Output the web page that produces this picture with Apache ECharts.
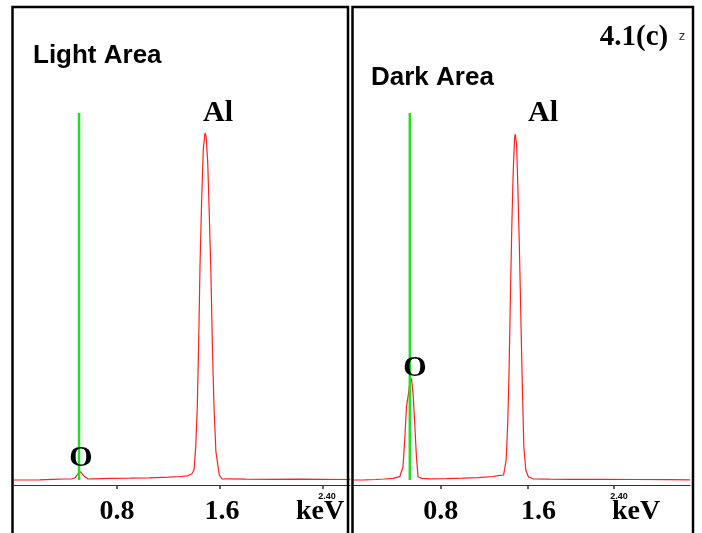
<!DOCTYPE html>
<html><head><meta charset="utf-8">
<script src="https://cdn.jsdelivr.net/npm/echarts@6/dist/echarts.min.js"></script>
<style>html,body{margin:0;padding:0;background:#fff}#c{width:702px;height:533px}</style>
</head><body><div id="c"></div>
<script>
// ---- data (energy in keV, counts in arbitrary units) ----
const lightKeV = [0, 0.10, 0.20, 0.30, 0.40, 0.45, 0.476, 0.495, 0.515, 0.541, 0.575, 0.62, 0.75, 0.90, 1.05, 1.20, 1.29, 1.35, 1.380, 1.398, 1.411, 1.423, 1.434, 1.444, 1.457, 1.470, 1.483, 1.491, 1.504, 1.516, 1.530, 1.540, 1.553, 1.568, 1.594, 1.615, 1.66, 1.80, 2.00, 2.20, 2.40, 2.61];
const lightCounts = [50, 50, 52, 56, 60, 62, 73, 110, 133, 93, 60, 62, 66, 68, 72, 78, 85, 92, 110, 150, 384, 772, 1420, 2172, 2846, 3364, 3520, 3494, 3235, 2720, 2070, 1420, 772, 330, 100, 60, 62, 58, 57, 58, 56, 55];
const darkKeV = [0, 0.10, 0.20, 0.28, 0.36, 0.422, 0.452, 0.468, 0.484, 0.499, 0.512, 0.530, 0.545, 0.560, 0.576, 0.591, 0.622, 0.70, 0.85, 1.00, 1.15, 1.28, 1.333, 1.38, 1.404, 1.419, 1.431, 1.444, 1.456, 1.468, 1.481, 1.487, 1.500, 1.512, 1.527, 1.542, 1.555, 1.567, 1.585, 1.610, 1.657, 1.80, 2.00, 2.30, 2.60, 2.90, 3.10];
const darkCounts = [50, 52, 55, 60, 67, 83, 183, 450, 783, 883, 1000, 1067, 917, 617, 283, 83, 67, 62, 64, 68, 73, 85, 93, 100, 250, 640, 1160, 1934, 2582, 3100, 3463, 3510, 3412, 2970, 2323, 1545, 900, 380, 150, 80, 60, 58, 57, 56, 55, 54, 52];
const oLineKeV = [0.505, 0.515];      // O K-alpha marker (light, dark)
const oLineCounts = [50, 3720];        // marker bottom, top
const xMax = [2.609, 3.10];
const tickValues = [0.8, 1.6, 2.4];
const tickLabels = ['0.8', '1.6', ''];
const panelTitles = ['Light Area', 'Dark Area'];
const peakNames = ['Al', 'O'];

const pairs = (xs, ys) => xs.map((x, i) => [x, ys[i]]);
const serif = '"Liberation Serif","Times New Roman",serif';
const sans = '"Liberation Sans",Arial,sans-serif';
const chart = echarts.init(document.getElementById('c'), null, {renderer: 'canvas'});

function makeX(gi, shift16) {
  const tok = {fontFamily: serif, fontWeight: 'bold', fontSize: 28, color: '#000', lineHeight: 28};
  return {
    type: 'value', gridIndex: gi, min: 0, max: xMax[gi], interval: 0.8,
    axisLine: {show: true, onZero: false, lineStyle: {color: '#333', width: 1}},
    axisTick: {show: true, customValues: tickValues, length: 4, lineStyle: {color: '#333', width: 1.5}},
    axisLabel: {
      show: true, customValues: tickValues, margin: 13,
      fontFamily: serif, fontWeight: 'bold', fontSize: 28, color: '#000', lineHeight: 28,
      formatter: v => {
        const i = tickValues.findIndex(t => Math.abs(t - v) < 1e-6);
        const s = i >= 0 ? tickLabels[i] : '';
        if (!s) return '';
        return i === 1 ? '{s|' + s + '}' : '{n|' + s + '}';
      },
      rich: {n: tok, s: Object.assign({}, tok, {padding: [0, 0, 0, shift16]})}
    },
    splitLine: {show: false}
  };
}
function makeY(gi) {
  return {type: 'value', gridIndex: gi, min: 0, max: 4780, show: false, splitLine: {show: false}};
}
const red = {color: '#ff2020', width: 1.2};
const green = {color: '#22dd22', width: 2.5};

function txt(x, y, text, size, family, align, extra) {
  return Object.assign({
    type: 'text', x: x, y: y, z: 200,
    style: {text: text, fontSize: size, fontFamily: family, fontWeight: 'bold', fill: '#000',
            align: align || 'center', verticalAlign: 'middle'}
  }, extra || {});
}

chart.setOption({
  animation: false,
  backgroundColor: '#fff',
  grid: [
    {left: 14, top: 7, width: 336, bottom: 48},
    {left: 354, top: 7, width: 336, bottom: 48}
  ],
  xAxis: [makeX(0, 4), makeX(1, 22)],
  yAxis: [makeY(0), makeY(1)],
  series: [
    {type: 'line', xAxisIndex: 0, yAxisIndex: 0, data: pairs(lightKeV, lightCounts), showSymbol: false, lineStyle: red, z: 2},
    {type: 'line', xAxisIndex: 1, yAxisIndex: 1, data: pairs(darkKeV, darkCounts), showSymbol: false, lineStyle: red, z: 2},
    {type: 'line', xAxisIndex: 0, yAxisIndex: 0, data: oLineCounts.map(c => [oLineKeV[0], c]), showSymbol: false, lineStyle: green, z: 3},
    {type: 'line', xAxisIndex: 1, yAxisIndex: 1, data: oLineCounts.map(c => [oLineKeV[1], c]), showSymbol: false, lineStyle: green, z: 3}
  ],
  graphic: [
    {type: 'rect', z: 100, shape: {x: 12.5, y: 7, width: 335.5, height: 545}, style: {fill: null, stroke: '#000', lineWidth: 2.5}},
    {type: 'rect', z: 100, shape: {x: 352.5, y: 7, width: 340.5, height: 545}, style: {fill: null, stroke: '#000', lineWidth: 2.5}},
    txt(33, 56, panelTitles[0], 26, sans, 'left'),
    txt(371, 78, panelTitles[1], 26, sans, 'left'),
    txt(218, 113, peakNames[0], 30, serif),
    txt(543, 113, peakNames[0], 30, serif),
    txt(81, 458, peakNames[1], 30, serif),
    txt(415, 368, peakNames[1], 30, serif),
    txt(634, 38, '4.1(c)', 29, serif),
    {type: 'text', x: 682, y: 36, z: 200, style: {text: 'z', fontSize: 13, fontFamily: sans, fill: '#333', align: 'center', verticalAlign: 'middle'}},
    txt(327, 497, '2.40', 9, sans),
    txt(619, 497, '2.40', 9, sans),
    txt(320, 512, 'keV', 28, serif),
    txt(636, 512, 'keV', 28, serif)
  ]
});
</script>
</body></html>
